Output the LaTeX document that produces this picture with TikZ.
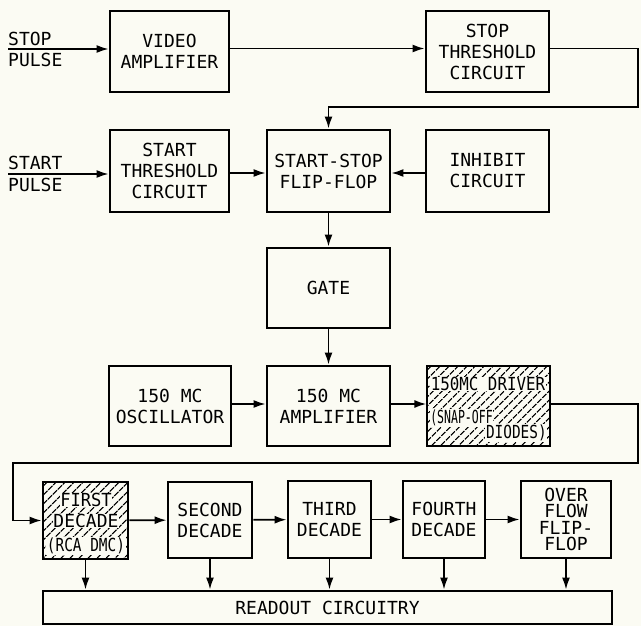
\documentclass[tikz,border=0pt]{standalone}
\usepackage{fontspec}
\setmainfont{DejaVu Sans Mono}
\usepackage{graphicx}
\usetikzlibrary{arrows.meta,patterns.meta}
\definecolor{bg}{RGB}{251,251,243}
\newcommand\boxfont{\fontsize{18}{21}\selectfont}
\newcommand\ovfont{\fontsize{18}{16.5}\selectfont}
\newcommand\bx[7][]{\node[box,#1,minimum width={#5-#3},minimum height={#6-#4}] (#2) at ({(#3+#5)/2},{(#4+#6)/2}) {#7};}
\begin{document}
\begin{tikzpicture}[x=1pt,y=-1pt,
  box/.style={draw,line width=2.8pt,inner sep=0pt,align=center,font=\boxfont},
  arr/.style={line width=1.8pt,-{Latex[length=12pt,width=8pt]}},
  hatch/.style={pattern={Lines[angle=45,distance=6.5pt,line width=1.2pt]}},
  htext/.style={fill=bg,inner sep=0.6pt,font=\boxfont},
  lbl/.style={anchor=base west,inner sep=0pt,font=\boxfont}]
\fill[bg] (0,0) rectangle (641,626);
\useasboundingbox (0,0) rectangle (641,626);
% boxes
\bx{va}{110}{11}{229}{92}{VIDEO\\AMPLIFIER}
\bx{stt}{426}{11}{549}{92}{STOP\\THRESHOLD\\CIRCUIT}
\bx{sta}{110}{130}{229}{212}{START\\THRESHOLD\\CIRCUIT}
\bx{ss}{267}{130}{390}{212}{START-STOP\\FLIP-FLOP}
\bx{inh}{426}{130}{549}{212}{INHIBIT\\CIRCUIT}
\bx{gate}{267}{248}{390}{328}{GATE}
\bx{osc}{109}{366}{231}{446}{150 MC\\OSCILLATOR}
\bx{amp}{267}{366}{390}{446}{150 MC\\AMPLIFIER}
\bx[hatch]{drv}{427}{366}{550}{446}{}
\bx[hatch]{d1}{43}{482}{128}{559}{}
\bx{d2}{168}{482}{252}{558}{SECOND\\DECADE}
\bx{d3}{288}{481}{371}{558}{THIRD\\DECADE}
\bx{d4}{403}{481}{485}{558}{FOURTH\\DECADE}
\bx[font=\ovfont]{ov}{521}{481}{611}{558}{OVER\\FLOW\\FLIP-\\FLOP}
\bx{ro}{43}{591}{612}{624}{READOUT CIRCUITRY}
% hatched box texts
\node[htext] (drvt1) at (488,384) {\scalebox{0.88}[1]{150MC DRIVER}};
\node[htext,anchor=west] (drvt2) at (429.5,418) {\scalebox{0.64}[1]{(SNAP-OFF}};
\node[htext,anchor=east] (drvt3) at (547.5,433) {\scalebox{0.8}[1]{DIODES)}};
\node[htext] (d1t1) at (86,500) {\scalebox{0.95}[1]{FIRST}};
\node[htext] (d1t2) at (86,521) {\scalebox{1.0}[1]{DECADE}};
\node[htext] (d1t3) at (86,546) {\scalebox{0.8}[1]{(RCA DMC)}};
% input labels
\node[lbl] (stop1) at (8,46) {STOP};
\node[lbl] (stop2) at (8,67) {PULSE};
\node[lbl] (start1) at (8,170) {START};
\node[lbl] (start2) at (8,192) {PULSE};
\coordinate (sp) at (8,49);
\coordinate (stp) at (8,174);
\coordinate (rx) at (638,107);
\coordinate (lx1) at (638,463);
\coordinate (lx2) at (13,463);
% connectors
\draw[arr] (sp) -- (sp -| va.west);
\draw[arr] ([yshift=3pt]va.east) -- ([yshift=3pt]stt.west);
\draw[arr] ([yshift=3pt]stt.east) -- ([yshift=3pt]stt.east -| rx) -- (rx) -- (rx -| ss.north) -- (ss.north);
\draw[arr] (stp) -- (stp -| sta.west);
\draw[arr] ([yshift=-2pt]sta.east) -- ([yshift=-2pt]ss.west);
\draw[arr] ([yshift=-2pt]inh.west) -- ([yshift=-2pt]ss.east);
\draw[arr] (ss) -- (gate);
\draw[arr] (gate) -- (amp);
\draw[arr] ([yshift=2pt]osc.east) -- ([yshift=2pt]amp.west);
\draw[arr] ([yshift=2pt]amp.east) -- ([yshift=2pt]drv.west);
\draw[arr] ([yshift=2pt]drv.east) -- ([yshift=2pt]drv.east -| lx1) -- (lx1) -- (lx2) -- (lx2 |- d1.west) -- (d1.west);
\draw[arr] (d1) -- (d2);
\draw[arr] (d2) -- (d3);
\draw[arr] (d3) -- (d4);
\draw[arr] (d4) -- (ov);
\foreach \n in {d1,d2,d3,d4,ov}{\draw[arr] (\n.south) -- (\n.south |- ro.north);}
\end{tikzpicture}
\end{document}
